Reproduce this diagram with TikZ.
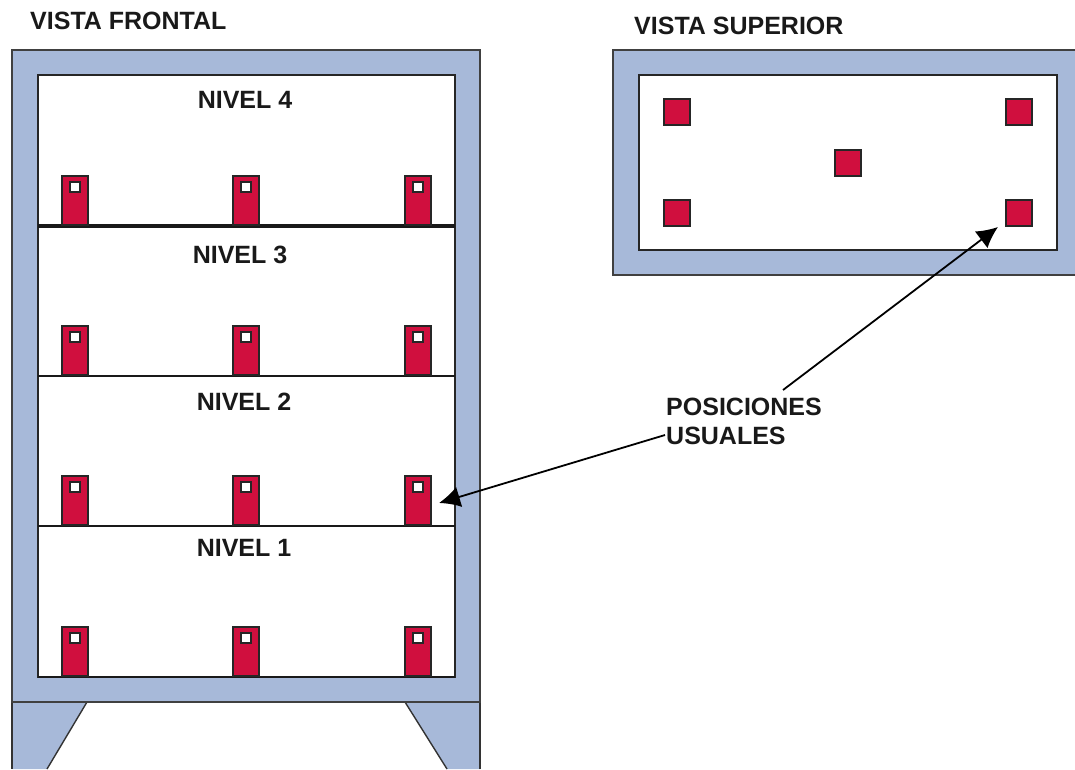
\documentclass[tikz,border=0pt]{standalone}
\usepackage{fontspec}
\setmainfont{Liberation Sans}
\usepackage{xcolor}
\usepackage{tikz}
\usetikzlibrary{arrows.meta,positioning}
\definecolor{frameblue}{HTML}{A7B9D9}
\definecolor{pieza}{HTML}{D00F3E}
\tikzset{
  bastidor/.style={draw=black!75,fill=frameblue,line width=1.6pt,rectangle,inner sep=0pt},
  hueco/.style={draw=black!85,fill=white,line width=2pt,rectangle,inner sep=0pt},
  probeta/.style={draw=black!85,fill=pieza,line width=1.6pt,rectangle,inner sep=0pt,minimum width=26pt,minimum height=49pt},
  ventana/.style={draw=black!85,fill=white,line width=1.6pt,rectangle,inner sep=0pt,minimum size=10pt},
  cubo/.style={draw=black!85,fill=pieza,line width=1.2pt,rectangle,inner sep=0pt,minimum size=26pt},
  rotulo/.style={font=\fontsize{25}{28}\selectfont\bfseries,inner sep=0pt,text=black!90},
  flecha/.style={-{Latex[length=21pt,width=21pt]},line width=1.8pt}
}
\begin{document}
\begin{tikzpicture}[x=1pt,y=-1pt]
  \useasboundingbox (0,0) rectangle (1075,769);
  % patas
  \path[fill=frameblue] (12,702) -- (87,702) -- (47,769) -- (12,769) -- cycle;
  \path[fill=frameblue] (405,702) -- (480,702) -- (480,769) -- (447,769) -- cycle;
  \coordinate (pataA1) at (87,702);
  \coordinate (pataA2) at (47,769);
  \coordinate (pataA3) at (12,769);
  \coordinate (pataB1) at (405,702);
  \coordinate (pataB2) at (447,769);
  \coordinate (pataB3) at (480,769);
  \draw[black!80,line width=1.4pt] (pataA1) -- (pataA2);
  \draw[black!80,line width=1.4pt] (pataB1) -- (pataB2);
  \draw[black!80,line width=1.4pt] (pataA3) -- (12,702);
  \draw[black!80,line width=1.4pt] (pataB3) -- (480,702);
  % vista frontal
  \node[bastidor,minimum width=468pt,minimum height=652pt] (frontal) at (246,376) {};
  \node[hueco,minimum width=417pt,minimum height=602pt] (interior) at (246.5,376) {};
  % vista superior
  \path[fill=frameblue] (613,50) rectangle (1075,275);
  \draw[black!75,line width=1.6pt] (1075,50) -- (613,50) -- (613,275) -- (1075,275);
  \node[hueco,minimum width=418pt,minimum height=175pt] (interiorsup) at (848,162.5) {};
  % estantes y probetas
  \foreach \nivel/\y/\g in {4/226/3.5pt,3/376/2pt,2/526/2pt,1/677/2pt}{
    \coordinate (izq\nivel) at (38,\y);
    \coordinate (der\nivel) at (455,\y);
    \draw[black!90,line width=\g] (izq\nivel) -- (der\nivel);
    \foreach \col/\x in {a/75,b/246,c/418}{
      \node[probeta] (p\nivel\col) at (\x,\y-25.5) {};
      \node[ventana] at ([yshift=-12pt]p\nivel\col.north) {};
    }
  }
  \node[cubo] (sup1) at (677,112) {};
  \node[cubo] (sup2) at (1019,112) {};
  \node[cubo] (sup3) at (848,163) {};
  \node[cubo] (sup4) at (677,213) {};
  \node[cubo] (sup5) at (1019,213) {};
  % textos
  \node[rotulo,anchor=west] (frontaltxt) at (30,21) {VISTA FRONTAL};
  \node[rotulo,anchor=west] (suptxt) at (634,26) {VISTA SUPERIOR};
  \node[rotulo] (n4) at (245,100) {NIVEL 4};
  \node[rotulo] (n3) at (240,255) {NIVEL 3};
  \node[rotulo] (n2) at (244,402) {NIVEL 2};
  \node[rotulo] (n1) at (244,548) {NIVEL 1};
  \node[rotulo,anchor=west] (pos) at (666,407) {POSICIONES};
  \node[rotulo,anchor=west] (usu) at (666,436) {USUALES};
  % flechas
  \coordinate (destfrontal) at (439,503);
  \coordinate (destsup) at (998,227);
  \coordinate (origfrontal) at (665,435);
  \coordinate (origsup) at (783,390);
  \draw[flecha] (origfrontal) -- (destfrontal);
  \draw[flecha] (origsup) -- (destsup);
\end{tikzpicture}
\end{document}
